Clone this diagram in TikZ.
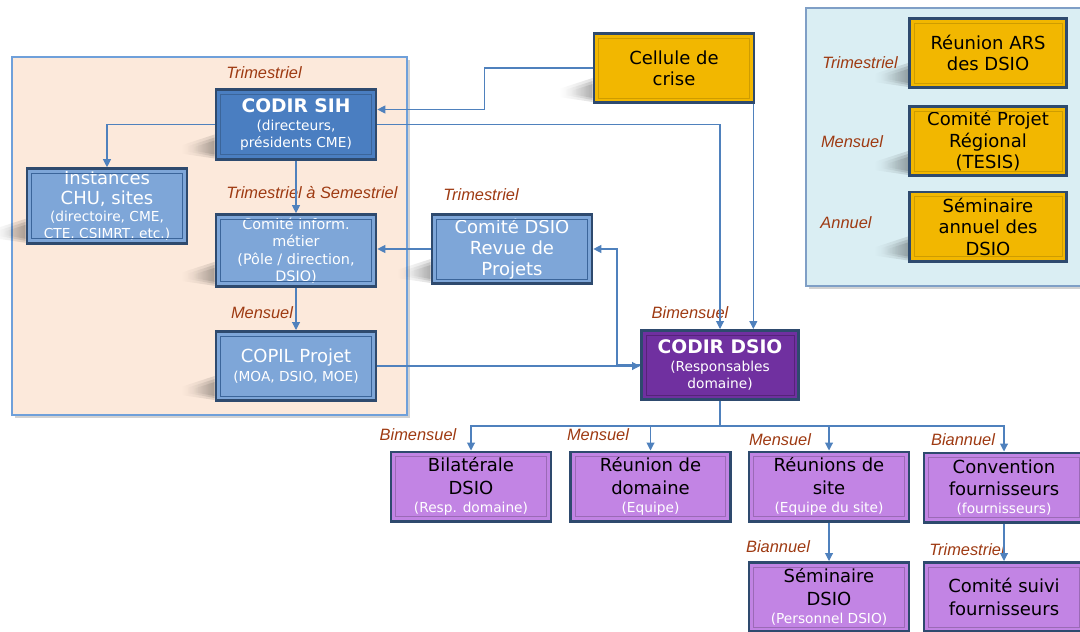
\documentclass[tikz,border=0pt]{standalone}
\usepackage{fontspec}
\setmainfont{DejaVu Sans}
\newfontfamily\lblfont{Liberation Sans}
\usetikzlibrary{calc,arrows.meta,fadings}

\definecolor{peach}{HTML}{FCE9DB}
\definecolor{peachedge}{HTML}{6FA0DA}
\definecolor{cyanbg}{HTML}{DAEEF3}
\definecolor{cyanedge}{HTML}{7F9FC6}
\definecolor{dkblue}{HTML}{4A7EC1}
\definecolor{ltblue}{HTML}{7EA6D8}
\definecolor{gold}{HTML}{F2B700}
\definecolor{violet}{HTML}{7030A0}
\definecolor{lilac}{HTML}{C284E4}
\definecolor{edge}{HTML}{2E4A6E}
\definecolor{conncol}{HTML}{4F81BD}
\definecolor{lblcol}{HTML}{9E3A12}

\newcommand\txtmain{\fontsize{13.5}{15.8}\selectfont\mdseries}
\newcommand\txtsub{\fontsize{10.3}{12.8}\selectfont\mdseries}
\newcommand\txtmid{\fontsize{10.8}{13.1}\selectfont\mdseries}
\newcommand\txtbold{\fontsize{14}{16.5}\selectfont\bfseries}

\tikzfading[name=fadeleft, left color=transparent!100, right color=transparent!0]

\pgfdeclarelayer{back}
\pgfdeclarelayer{shade}
\pgfsetlayers{back,shade,main}

\begin{document}
\begin{tikzpicture}[x=0.75pt,y=-0.75pt,
  box/.style={draw=edge, line width=2pt, align=center, inner sep=2pt,
    minimum width=120pt, minimum height=52pt, font=\txtmain},
  darkbox/.style={box, fill=dkblue, text=white},
  lightbox/.style={box, fill=ltblue, text=white},
  goldbox/.style={box, fill=gold, text=black},
  violetbox/.style={box, fill=violet, text=white},
  lilacbox/.style={box, fill=lilac, text=black},
  lbl/.style={font=\lblfont\itshape\fontsize{12.3}{14}\selectfont, text=lblcol, inner sep=0pt},
  conn/.style={draw=conncol, line width=0.8pt, -{Triangle[length=6pt,width=6pt]}},
  trunk/.style={draw=conncol, line width=1.4pt},
  frame/.style={line width=0.6pt},
  shadowwedge/.style={fill=black, opacity=0.12, path fading=fadeleft}
]
\useasboundingbox (0,0) rectangle (1080,631);

% panels
\begin{pgfonlayer}{back}
  \fill[gray!35] (15,60) rectangle (410,418);
  \fill[peach, draw=peachedge, line width=0.8pt] (12,57) rectangle (407,415);
  \fill[gray!35] (809,11) rectangle (1090,289);
  \fill[cyanbg, draw=cyanedge, line width=0.8pt] (806,8) rectangle (1090,286);
\end{pgfonlayer}

% local governance boxes
\node[darkbox] (sih) at (296,124.5)
  {\txtbold CODIR SIH\\[-2.5pt]\txtsub (directeurs,\\[-3pt]\txtsub présidents CME)};
\node[lightbox, minimum height=55pt] (inst) at (107,206)
  {Instances\\[-0.8pt]CHU, sites\\[-2.8pt]\txtsub (directoire, CME,\\[-2.8pt]\txtsub CTE, CSIMRT, etc.)};
\node[lightbox, minimum height=54pt, font=\txtmid] (cim) at (296,250.5)
  {Comité inform.\\métier\\(Pôle / direction,\\DSIO)};
\node[lightbox] (copil) at (296,366)
  {COPIL Projet\\[-1.5pt]\txtsub (MOA, DSIO, MOE)};
\node[lightbox] (cdsio) at (512,249)
  {Comité DSIO\\Revue de\\Projets};
\node[goldbox] (crise) at (674,68)
  {Cellule de\\crise};
\node[violetbox, minimum width=118pt] (codir) at (720,365)
  {\txtbold CODIR DSIO\\[-2.5pt]\txtsub (Responsables\\[-3pt]\txtsub domaine)};

% regional boxes
\node[goldbox, minimum width=118pt] (ars) at (988,53)
  {Réunion ARS\\[0.5pt]des DSIO};
\node[goldbox, minimum width=118pt] (tesis) at (988,141)
  {Comité Projet\\[0.3pt]Régional\\[0.3pt](TESIS)};
\node[goldbox, minimum width=118pt] (semann) at (988,226.5)
  {Séminaire\\[0.3pt]annuel des\\[0.3pt]DSIO};

% DSIO meetings
\node[lilacbox] (bil) at (471,486.5)
  {Bilatérale\\[1pt]DSIO\\[-2pt]\txtsub\color{white}(Resp. domaine)};
\node[lilacbox] (dom) at (650.5,486.5)
  {Réunion de\\[1pt]domaine\\[-2pt]\txtsub\color{white}(Equipe)};
\node[lilacbox] (site) at (829,486.5)
  {Réunions de\\[1pt]site\\[-2pt]\txtsub\color{white}(Equipe du site)};
\node[lilacbox] (conv) at (1004,487.5)
  {Convention\\[1pt]fournisseurs\\[-2pt]\txtsub\color{white}(fournisseurs)};
\node[lilacbox] (sem) at (829,597)
  {Séminaire\\[1pt]DSIO\\[-2pt]\txtsub\color{white}(Personnel DSIO)};
\node[lilacbox] (suivi) at (1004,597)
  {Comité suivi\\[1pt]fournisseurs};

% bevel frames
\foreach \n in {sih,inst,cim,copil,cdsio}
  \draw[frame, draw=dkblue!80!black] ($(\n.north west)+(6,6)$) rectangle ($(\n.south east)+(-6,-6)$);
\foreach \n in {crise,ars,tesis,semann}
  \draw[frame, draw=gold!85!black] ($(\n.north west)+(6,6)$) rectangle ($(\n.south east)+(-6,-6)$);
\draw[frame, draw=violet!75!black] ($(codir.north west)+(6,6)$) rectangle ($(codir.south east)+(-6,-6)$);
\foreach \n in {bil,dom,site,conv,sem,suivi}
  \draw[frame, draw=lilac!80!black] ($(\n.north west)+(6,6)$) rectangle ($(\n.south east)+(-6,-6)$);

% soft shadows, stacked wedges
\begin{pgfonlayer}{shade}
\foreach \n in {sih,inst,cim,copil,cdsio,crise,ars,tesis,semann}{
  \fill[shadowwedge] ($(\n.south west)+(0,-26)$) -- ($(\n.south west)+(-34,-15)$)
    -- ($(\n.south west)+(-34,-7)$) -- ($(\n.south west)+(0,-2)$) -- cycle;
  \fill[shadowwedge] ($(\n.south west)+(0,-23)$) -- ($(\n.south west)+(-28,-14)$)
    -- ($(\n.south west)+(-28,-9)$) -- ($(\n.south west)+(0,-4)$) -- cycle;
  \fill[shadowwedge] ($(\n.south west)+(0,-20)$) -- ($(\n.south west)+(-22,-13)$)
    -- ($(\n.south west)+(-22,-10)$) -- ($(\n.south west)+(0,-6)$) -- cycle;
}
\end{pgfonlayer}

% frequencies
\node[lbl] (f1) at (264,73) {Trimestriel};
\node[lbl] (f2) at (312,193) {Trimestriel à Semestriel};
\node[lbl] (f3) at (262,313) {Mensuel};
\node[lbl] (f4) at (481,195) {Trimestriel};
\node[lbl] (f5) at (690,313) {Bimensuel};
\node[lbl] (f6) at (860,63) {Trimestriel};
\node[lbl] (f7) at (852,142) {Mensuel};
\node[lbl] (f8) at (846,223) {Annuel};
\node[lbl] (f9) at (418,435) {Bimensuel};
\node[lbl] (f10) at (598,435) {Mensuel};
\node[lbl] (f11) at (780,440) {Mensuel};
\node[lbl] (f12) at (963,440) {Biannuel};
\node[lbl] (f13) at (778,547) {Biannuel};
\node[lbl] (f14) at (967,550) {Trimestriel};

% connectors
\draw[conn] (crise.west) -- ++(-108,0) |- ($(sih.east)+(0,-15)$);
\draw[conn] (sih.east) -| (codir.north);
\coordinate (cr) at ($(crise.south east)+(-2,0)$);
\draw[conn] (cr) -- (cr |- codir.north);
\draw[conn] (sih.west) -| (inst.north);
\draw[conn] (sih.south) -- (cim.north);
\draw[conn] (cim.south) -- (copil.north);
\draw[conn] (cdsio.west) -- (cdsio.west -| cim.east);
\draw[conn] (copil.east) -- (copil.east -| codir.west);
\draw[conn] (codir.west) -- ++(-23,0) |- (cdsio.east);
\coordinate (bus) at ($(codir.south)+(0,25)$);
\draw[trunk] (codir.south) -- (bus);
\foreach \t in {bil,dom,site,conv}
  \draw[conn] (bus) -| (\t.north);
\draw[conn] (site.south) -- (sem.north);
\draw[conn] (conv.south) -- (suivi.north);
\end{tikzpicture}
\end{document}
